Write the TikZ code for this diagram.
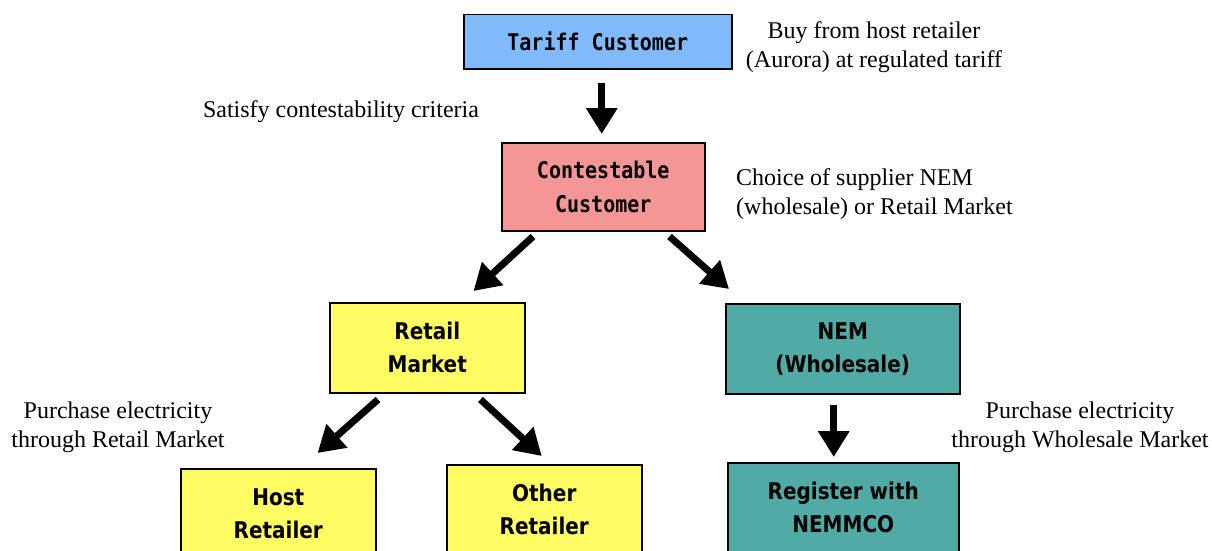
\documentclass[tikz,border=0pt]{standalone}
\usepackage{fontspec}
\setmainfont{Liberation Serif}
\newfontfamily\boxmono[FakeStretch=0.87]{DejaVu Sans Mono Bold}
\newfontfamily\boxsans[FakeStretch=0.87]{DejaVu Sans Bold}
\usetikzlibrary{arrows.meta,calc}
\definecolor{tariffblue}{RGB}{128,186,250}
\definecolor{contestred}{RGB}{244,150,150}
\definecolor{retailyellow}{RGB}{255,252,100}
\definecolor{nemteal}{RGB}{80,170,165}
\begin{document}
\begin{tikzpicture}[x=1pt,y=-1pt,
  box/.style={draw=black,line width=1.5pt,rectangle,inner sep=0pt,anchor=north west,align=center},
  monotext/.style={font=\boxmono\fontsize{23}{34}\selectfont},
  sanstext/.style={font=\boxsans\fontsize{23}{33}\selectfont},
  note/.style={font=\fontsize{24}{29}\selectfont,inner sep=0pt},
  bigarrow/.style={line width=7pt,-{Triangle[length=26pt,width=30pt]}}]
\useasboundingbox (0,0) rectangle (1212,551);
\clip (0,0) rectangle (1212,551);

% boxes
\node[box,fill=tariffblue,monotext,minimum width=268pt,minimum height=54pt] (tariff) at (463,14) {Tariff Customer};
\node[box,fill=contestred,monotext,minimum width=203pt,minimum height=88pt] (contest) at (501,142) {Contestable\\Customer};
\node[box,fill=retailyellow,sanstext,minimum width=195pt,minimum height=90pt] (retail) at (329,302) {Retail\\Market};
\node[box,fill=nemteal,sanstext,minimum width=234pt,minimum height=90pt] (nem) at (725,303) {NEM\\(Wholesale)};
\node[box,fill=retailyellow,sanstext,minimum width=195pt,minimum height=90pt] (host) at (180,468) {Host\\Retailer};
\node[box,fill=retailyellow,sanstext,minimum width=195pt,minimum height=90pt] (other) at (446,464) {Other\\Retailer};
\node[box,fill=nemteal,sanstext,minimum width=231pt,minimum height=90pt] (register) at (727,462) {Register with\\NEMMCO};

% notes
\node[note,align=center] (buy) at (874,47) {Buy from host retailer\\(Aurora) at regulated tariff};
\node[note,align=center] (satisfy) at (341,112) {Satisfy contestability criteria};
\node[note,align=left,anchor=west] (choice) at (736,194) {Choice of supplier NEM\\(wholesale) or Retail Market};
\node[note,align=center] (purchL) at (118,427) {Purchase electricity\\through Retail Market};
\node[note,align=center] (purchR) at (1080,427) {Purchase electricity\\through Wholesale Market};

% arrows
\draw[bigarrow] ($(tariff.south)+(4,13)$) -- ($(contest.north)+(-1.5,-8)$);
\draw[bigarrow] ($(contest.south west)+(32,5)$) -- ($(retail.north east)+(-52,-11)$);
\draw[bigarrow] ($(contest.south east)+(-36,5)$) -- ($(nem.north west)+(4,-14)$);
\draw[bigarrow] ($(retail.south west)+(49,6)$) -- ($(host.north east)+(-59,-15)$);
\draw[bigarrow] ($(retail.south east)+(-45,6)$) -- ($(other.north)+(-2.5,-8)$);
\draw[bigarrow] ($(nem.south)+(-9,10)$) -- ($(register.north)+(-9.5,-5)$);
\end{tikzpicture}
\end{document}
